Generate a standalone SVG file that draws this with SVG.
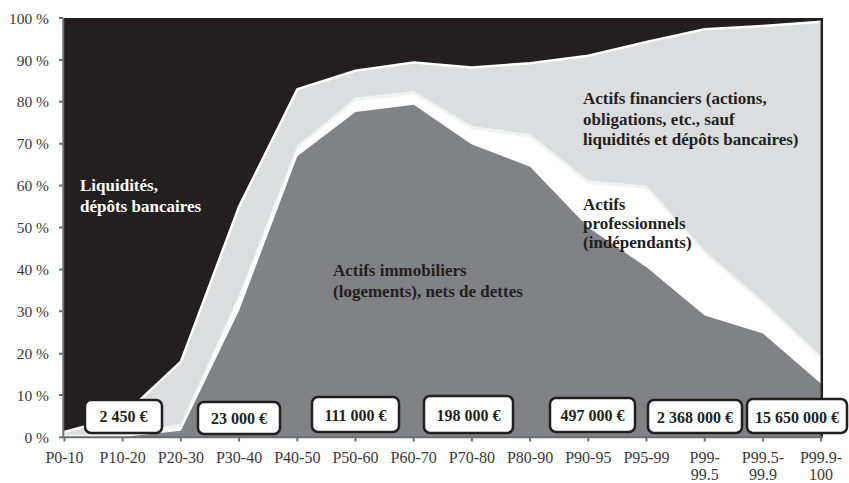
<svg xmlns="http://www.w3.org/2000/svg" width="849" height="483" viewBox="0 0 849 483">
<style>
.ax{font-family:"Liberation Serif",serif;font-size:16px;fill:#3a3a3c}
.yl{font-family:"Liberation Serif",serif;font-size:15.5px;fill:#3a3a3c;text-anchor:end}
.xl{text-anchor:middle}
.lab{font-family:"Liberation Serif",serif;font-size:17px;font-weight:bold;fill:#231f20}
.val{font-family:"Liberation Serif",serif;font-size:16px;font-weight:bold;fill:#231f20;text-anchor:middle}
.box{fill:#fff;stroke:#231f20;stroke-width:2.5}
.axis{stroke:#6d6e71;stroke-width:2;fill:none}
</style>
<defs>
<clipPath id="plot"><rect x="64" y="18" width="758" height="419"/></clipPath>
</defs>
<rect width="849" height="483" fill="#fff"/>
<g id="areas" clip-path="url(#plot)">
<rect id="liquidites" x="64" y="18" width="760" height="419" fill="#231f20"/>
<path id="financiers" d="M64,432 L122.7,416.1 L180.9,361.6 L239.1,206.6 L297.3,89.2 L355.5,70.8 L413.7,62.4 L471.9,67.4 L530.1,63.3 L588.3,55.7 L646.5,41.9 L704.7,29.3 L762.9,26 L821.1,21.8 L826,21.6 L826,440 L60,440 Z" fill="#dcdddf" stroke="#fff" stroke-width="2.5"/>
<path id="stripe" d="M64,434.9 L122.7,433.6 L180.9,423.6 L239.1,294.5 L297.3,145.4 L355.5,97.6 L413.7,90.9 L471.9,125.7 L530.1,134.1 L588.3,180.2 L646.5,185.6 L704.7,250.5 L762.9,300.8 L821.1,355.7 L826,356 L826,440 L60,440 Z" fill="#f1f2f2"/>
<path id="professionnels" d="M64,437 L122.7,436.5 L180.9,427.3 L239.1,298 L297.3,149 L355.5,101.2 L413.7,94.5 L471.9,129.3 L530.1,137.7 L588.3,183.8 L646.5,189.2 L704.7,254 L762.9,304.3 L821.1,359.2 L826,359.5 L826,440 L60,440 Z" fill="#fff"/>
<path id="immobiliers" d="M122.7,437 L180.9,430.7 L239.1,310.5 L297.3,156.3 L355.5,111.9 L413.7,104.7 L471.9,144.5 L530.1,166.7 L588.3,227.5 L646.5,267.3 L704.7,315.5 L762.9,333.5 L821.1,383.8 L826,384 L826,440 L122.7,440 Z" fill="#808285"/>
</g>
<g id="axes">
<line x1="821.8" y1="18" x2="821.8" y2="437" stroke="#231f20" stroke-width="2.5"/>
<line class="axis" x1="63.3" y1="18" x2="63.3" y2="438"/>
<line class="axis" x1="62.5" y1="437.3" x2="823" y2="437.3"/>
<path class="axis" stroke-width="1.5" d="M59,18H63 M59,59.9H63 M59,101.8H63 M59,143.7H63 M59,185.4H63 M59,227.5H63 M59,269.6H63 M59,311.3H63 M59,353.8H63 M59,395.1H63 M59,437.3H63"/>
<path class="axis" stroke-width="1.5" d="M64.5,437V441.5 M122.7,437V441.5 M180.9,437V441.5 M239.1,437V441.5 M297.3,437V441.5 M355.5,437V441.5 M413.7,437V441.5 M471.9,437V441.5 M530.1,437V441.5 M588.3,437V441.5 M646.5,437V441.5 M704.7,437V441.5 M762.9,437V441.5 M821.1,437V441.5"/>
<text class="yl" x="49" y="24">100 %</text>
<text class="yl" x="49" y="65.5">90 %</text>
<text class="yl" x="49" y="107.4">80 %</text>
<text class="yl" x="49" y="149.3">70 %</text>
<text class="yl" x="49" y="191.2">60 %</text>
<text class="yl" x="49" y="233.1">50 %</text>
<text class="yl" x="49" y="275">40 %</text>
<text class="yl" x="49" y="316.9">30 %</text>
<text class="yl" x="49" y="358.8">20 %</text>
<text class="yl" x="49" y="400.7">10 %</text>
<text class="yl" x="49" y="442.8">0 %</text>
<g class="ax xl">
<text x="64.5" y="462.5">P0-10</text>
<text x="122.7" y="462.5">P10-20</text>
<text x="180.9" y="462.5">P20-30</text>
<text x="239.1" y="462.5">P30-40</text>
<text x="297.3" y="462.5">P40-50</text>
<text x="355.5" y="462.5">P50-60</text>
<text x="413.7" y="462.5">P60-70</text>
<text x="471.9" y="462.5">P70-80</text>
<text x="530.1" y="462.5">P80-90</text>
<text x="588.3" y="462.5">P90-95</text>
<text x="646.5" y="462.5">P95-99</text>
<text x="704.7" y="462.5">P99-</text>
<text x="704.7" y="479.5">99.5</text>
<text x="762.9" y="462.5">P99.5-</text>
<text x="762.9" y="479.5">99.9</text>
<text x="821.1" y="462.5">P99.9-</text>
<text x="821.1" y="479.5">100</text>
</g>
</g>
<g id="label-liquidites">
<text class="lab" x="80" y="191" style="fill:#fff">Liquidités,</text>
<text class="lab" x="80" y="212" style="fill:#fff">dépôts bancaires</text>
</g>
<g id="label-immobiliers">
<text class="lab" x="333" y="276">Actifs immobiliers</text>
<text class="lab" x="333" y="297">(logements), nets de dettes</text>
</g>
<g id="label-financiers">
<text class="lab" x="583" y="104">Actifs financiers (actions,</text>
<text class="lab" x="583" y="124.5">obligations, etc., sauf</text>
<text class="lab" x="583" y="145">liquidités et dépôts bancaires)</text>
</g>
<g id="label-professionnels">
<text class="lab" x="583" y="210">Actifs</text>
<text class="lab" x="583" y="229">professionnels</text>
<text class="lab" x="583" y="248">(indépendants)</text>
</g>
<g id="box-p10-20"><rect class="box" x="85" y="400" width="77" height="33" rx="6"/><text class="val" x="123.5" y="422">2 450 €</text></g>
<g id="box-p30-40"><rect class="box" x="198" y="402" width="82" height="32" rx="6"/><text class="val" x="239" y="423.5">23 000 €</text></g>
<g id="box-p50-60"><rect class="box" x="312" y="397" width="87" height="35" rx="6"/><text class="val" x="355.5" y="420.5">111 000 €</text></g>
<g id="box-p70-80"><rect class="box" x="424" y="396" width="89" height="37" rx="6"/><text class="val" x="468.5" y="420.5">198 000 €</text></g>
<g id="box-p90-95"><rect class="box" x="550" y="398" width="85" height="34" rx="6"/><text class="val" x="592.5" y="421">497 000 €</text></g>
<g id="box-p99"><rect class="box" x="648" y="400" width="94" height="33" rx="6"/><text class="val" x="695" y="422.5">2 368 000 €</text></g>
<g id="box-p999"><rect class="box" x="747" y="399" width="100" height="34" rx="6"/><text class="val" x="797" y="422.5">15 650 000 €</text></g>
</svg>
